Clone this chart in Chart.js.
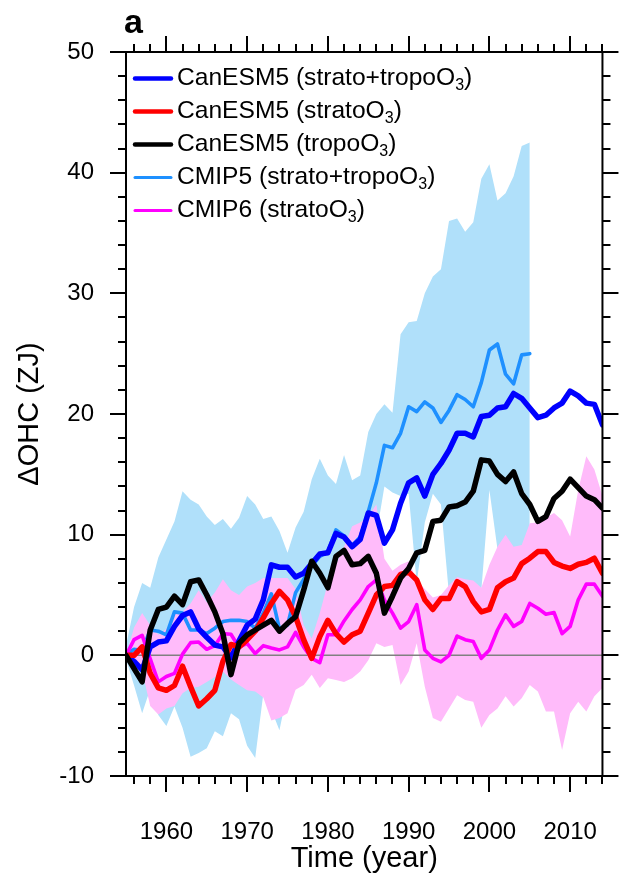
<!DOCTYPE html>
<html>
<head>
<meta charset="utf-8">
<title>ΔOHC</title>
<script src="https://cdn.jsdelivr.net/npm/chart.js@4.4.0/dist/chart.umd.min.js"></script>
<style>
  html, body { margin: 0; padding: 0; background: #fff; }
  canvas { display: block; }
</style>
</head>
<body>
<canvas id="ohc" width="624" height="877"></canvas>
<script>
const FONT = '"Liberation Sans", Arial, Helvetica, sans-serif';

const years = [
  1955, 1956, 1957, 1958, 1959, 1960, 1961, 1962, 1963, 1964,
  1965, 1966, 1967, 1968, 1969, 1970, 1971, 1972, 1973, 1974,
  1975, 1976, 1977, 1978, 1979, 1980, 1981, 1982, 1983, 1984,
  1985, 1986, 1987, 1988, 1989, 1990, 1991, 1992, 1993, 1994,
  1995, 1996, 1997, 1998, 1999, 2000, 2001, 2002, 2003, 2004,
  2005, 2006, 2007, 2008, 2009, 2010, 2011, 2012, 2013, 2014
];

// CanESM5 runs (ZJ)
const canesmBoth = [
  0, -0.5, -1.2, 0.7, 1.1, 1.2, 2.4, 3.3, 3.6, 2.2,
  1.5, 0.85, 0.7, -0.2, 1.2, 2.5, 3.0, 4.6, 7.5, 7.3,
  7.3, 6.5, 6.8, 7.6, 8.4, 8.5, 10.1, 9.8, 9.0, 9.6,
  11.8, 11.6, 9.3, 10.4, 12.6, 14.3, 14.7, 13.2, 15.0, 15.9,
  17.0, 18.4, 18.4, 18.1, 19.8, 19.9, 20.5, 20.6, 21.7, 21.3,
  20.5, 19.7, 19.9, 20.5, 20.9, 21.9, 21.5, 20.9, 20.8, 19.1
];
const canesmStrato = [
  0, 0, 0.7, -1.5, -2.7, -2.9, -2.5, -0.9, -2.6, -4.2,
  -3.6, -2.9, -0.5, 0.9, 0.7, 1.3, 2.0, 3.1, 4.3, 5.3,
  4.6, 3.2, 1.3, -0.25, 1.55, 2.9, 1.8, 1.1, 1.7, 2.0,
  3.5, 5.0, 5.7, 5.8, 6.7, 6.9, 6.25, 4.6, 3.8, 4.7,
  4.7, 6.1, 5.7, 4.45, 3.6, 3.8, 5.6, 6.1, 6.4, 7.6,
  8.05, 8.6, 8.6, 7.7, 7.4, 7.2, 7.55, 7.7, 8.05, 6.8
];
const canesmTropo = [
  0, -1.1, -2.2, 2.1, 3.8, 4.0, 4.9, 4.2, 6.1, 6.25,
  5.0, 3.6, 1.8, -1.6, 1.0, 1.7, 2.1, 2.5, 2.9, 2.0,
  2.65, 3.2, 5.4, 7.8, 6.8, 5.6, 8.2, 8.7, 7.5, 7.6,
  8.2, 6.8, 3.5, 4.9, 6.4, 7.2, 8.5, 8.7, 11.1, 11.2,
  12.3, 12.4, 12.7, 13.6, 16.2, 16.1, 15.0, 14.4, 15.2, 13.4,
  12.5, 11.1, 11.5, 13.0, 13.6, 14.6, 13.9, 13.2, 12.9, 12.2
];

// multi-model means and ranges; CMIP5 stops in 2005
const cmip5Mean = [
  0, 0.5, 0.4, 2.1, 2.0, 1.7, 3.6, 3.5, 2.1, 2.1,
  1.8, 2.25, 2.8, 2.9, 2.9, 2.8, 2.25, 3.5, 5.1, 2.2,
  2.5, 5.2, 6.3, 7.4, 8.2, 8.6, 10.4, 9.9, 9.1, 9.8,
  11.9, 14.3, 17.4, 17.2, 18.4, 20.6, 20.2, 21.0, 20.5, 19.3,
  20.3, 21.6, 21.2, 20.6, 22.6, 25.3, 25.8, 23.3, 22.5, 24.9,
  25.0
];
const cmip5Upper = [
  0.8, 4.0, 6.0, 5.6, 8.1, 9.6, 11.1, 13.6, 12.9, 12.5,
  11.5, 10.8, 11.3, 10.5, 11.4, 13.2, 12.5, 11.3, 11.5, 10.3,
  8.5, 10.6, 11.9, 14.6, 16.3, 14.9, 14.2, 16.6, 14.5, 14.9,
  18.5, 20.0, 20.8, 20.1, 26.6, 27.6, 27.7, 30.0, 31.4, 32.0,
  36.0, 36.2, 35.1, 35.9, 39.5, 40.7, 37.7, 38.3, 39.7, 42.2,
  42.5
];
const cmip5Lower = [
  -0.3, -2.5, -4.8, -2.8, -4.95, -5.85, -4.25, -6.0, -8.4, -8.1,
  -7.7, -6.3, -6.7, -4.8, -5.3, -7.5, -8.5, -3.2, -4.5, -6.2,
  -3.0, -1.0, 1.0, 1.0, 2.0, 3.0, 4.0, 5.0, 6.0, 7.0,
  8.0, 10.0, 14.0, 13.5, 13.2, 13.4, 6.0, 11.0, 13.4, 12.5,
  5.0, 5.8, 6.0, 5.8, 5.4, 13.7, 8.8, 9.5, 8.8, 9.0,
  9.0
];
const cmip6Mean = [
  0, 1.3, 1.65, -0.3, -2.2, -1.75, -1.5, 0.1, 1.05, 1.1,
  0.5, 0.8, 1.8, 1.75, 0.65, 1.0, 0.15, 0.8, 0.6, 0.45,
  0.7, 1.9, 0.7, -0.25, -0.6, 1.7, 1.7, 2.85, 3.8, 4.6,
  5.7, 6.25, 4.6, 3.5, 2.25, 2.8, 4.2, 0.45, -0.25, -0.55,
  0.0, 1.6, 1.3, 1.15, -0.25, 0.45, 2.1, 3.35, 2.4, 2.8,
  4.3, 3.9, 3.4, 3.55, 1.8, 2.4, 4.6, 5.9, 5.9, 4.9
];
const cmip6Upper = [
  0, 2.3, 3.5, 2.5, 1.7, 2.2, 3.4, 3.6, 4.3, 5.4,
  4.4, 5.2, 6.3, 5.4, 5.0, 5.7, 6.0, 6.4, 6.4, 6.4,
  6.4, 5.5, 2.5, 1.4, 3.5, 6.0, 7.5, 9.0, 10.7, 11.0,
  11.5, 12.5, 8.0, 7.0, 7.5, 7.8, 6.2, 5.5, 4.8, 5.0,
  5.8, 6.5, 6.3, 6.2, 5.6, 7.5, 9.0, 10.0, 9.0, 9.15,
  10.95, 11.0, 11.4, 11.8, 11.2, 9.85, 13.7, 16.5, 15.4, 13.2
];
const cmip6Lower = [
  0, -0.5, -1.3, -4.2, -4.9, -4.4, -4.2, -3.15, -2.7, -2.6,
  -2.2, -1.8, -1.35, -2.0, -2.45, -2.9, -3.0, -3.5, -5.4, -5.2,
  -4.8, -2.85, -2.45, -1.6, -2.7, -1.9, -2.05, -2.2, -1.9, -1.35,
  -0.4, 1.0, 0.7, 0.85, -2.45, -1.35, 1.0, -2.6, -5.2, -5.5,
  -4.4, -3.3, -3.7, -3.85, -6.0, -4.95, -4.4, -3.4, -4.25, -3.55,
  -2.45, -3.0, -4.65, -4.65, -7.85, -4.8, -3.85, -4.65, -3.4, -2.7
];

const xTickLabels = [1960, 1970, 1980, 1990, 2000, 2010];
const yTickLabels = [-10, 0, 10, 20, 30, 40, 50];

const pts = vals => vals.map((v, i) => ({ x: years[i], y: v }));

function series(label, vals, color, width, order) {
  return {
    label, data: pts(vals), borderColor: color, backgroundColor: color,
    borderWidth: width, pointRadius: 0, fill: false, order,
    borderCapStyle: 'round', borderJoinStyle: 'round', inKey: true
  };
}
function edge(vals, color, fill, order) {
  return {
    data: pts(vals), borderWidth: 0, borderColor: 'rgba(0,0,0,0)',
    backgroundColor: color, pointRadius: 0, fill, order
  };
}

const datasets = [
  series('CanESM5 (strato+tropoO₃)', canesmBoth, '#0000ff', 5.5, 8),
  series('CanESM5 (stratoO₃)', canesmStrato, '#ff0000', 5.5, 7),
  series('CanESM5 (tropoO₃)', canesmTropo, '#000000', 5.5, 6),
  series('CMIP5 (strato+tropoO₃)', cmip5Mean, '#1e90ff', 3.6, 10),
  series('CMIP6 (stratoO₃)', cmip6Mean, '#ff00ff', 3.6, 9),
  {
    data: [{ x: years[0], y: 0 }, { x: years[years.length - 1], y: 0 }],
    borderColor: '#808080', borderWidth: 1.5, pointRadius: 0, fill: false, order: 15
  },
  edge(cmip5Upper, '#b0e0fa', '+1', 20),
  edge(cmip5Lower, '#b0e0fa', false, 19),
  edge(cmip6Upper, '#ffbbfa', '+1', 18),
  edge(cmip6Lower, '#ffbbfa', false, 17)
];

// boxed frame with outward ticks on all four sides, plus the panel letter
const frame = {
  id: 'frame',
  afterDraw(chart) {
    const { ctx, chartArea: a, scales: { x, y } } = chart;
    ctx.save();
    ctx.strokeStyle = '#000';
    ctx.lineWidth = 2;
    ctx.strokeRect(a.left, a.top, a.right - a.left, a.bottom - a.top);
    ctx.beginPath();
    for (let v = 1956; v <= 2014; v += 2) {
      const len = v % 10 === 0 ? 16 : 8;
      const px = Math.round(x.getPixelForValue(v));
      ctx.moveTo(px, a.bottom); ctx.lineTo(px, a.bottom + len);
      ctx.moveTo(px, a.top); ctx.lineTo(px, a.top - len);
    }
    for (let v = -10; v <= 50; v += 2) {
      const len = v % 10 === 0 ? 16 : 8;
      const py = Math.round(y.getPixelForValue(v));
      ctx.moveTo(a.left, py); ctx.lineTo(a.left - len, py);
      ctx.moveTo(a.right, py); ctx.lineTo(a.right + len, py);
    }
    ctx.stroke();
    ctx.fillStyle = '#000';
    ctx.font = 'bold 34px ' + FONT;
    ctx.textBaseline = 'alphabetic';
    ctx.fillText('a', 124, 33);
    ctx.restore();
  }
};

// key in the upper left, with the ozone subscript drawn small and lowered
const key = {
  id: 'key',
  afterDatasetsDraw(chart) {
    const ctx = chart.ctx;
    const items = chart.data.datasets.filter(d => d.inKey);
    ctx.save();
    items.forEach((d, i) => {
      const row = 78.5 + i * 33;
      ctx.strokeStyle = d.borderColor;
      ctx.lineWidth = d.borderWidth > 4 ? 4.5 : 3;
      ctx.lineCap = 'round';
      ctx.beginPath();
      ctx.moveTo(135, row);
      ctx.lineTo(171, row);
      ctx.stroke();

      const [head, tail] = d.label.split('₃');
      let tx = 177;
      const base = row + 6.5;
      ctx.fillStyle = '#000';
      ctx.textBaseline = 'alphabetic';
      ctx.font = '24.6px ' + FONT;
      ctx.fillText(head, tx, base);
      tx += ctx.measureText(head).width;
      ctx.font = '16px ' + FONT;
      ctx.fillText('3', tx, base + 5);
      tx += ctx.measureText('3').width;
      ctx.font = '24.6px ' + FONT;
      ctx.fillText(tail, tx, base);
    });
    ctx.restore();
  }
};

new Chart(document.getElementById('ohc'), {
  type: 'line',
  data: { datasets },
  options: {
    responsive: false,
    animation: false,
    devicePixelRatio: 1,
    layout: { padding: { top: 52, right: 17, left: 0, bottom: 0 } },
    elements: { line: { tension: 0 } },
    plugins: { legend: { display: false }, tooltip: { enabled: false } },
    scales: {
      x: {
        type: 'linear', min: 1955, max: 2014,
        grid: { display: false, drawTicks: true, tickLength: 16 },
        border: { display: false },
        ticks: {
          font: { family: FONT, size: 24 }, color: '#000', padding: 26,
          maxRotation: 0, autoSkip: false, callback: v => String(v)
        },
        afterBuildTicks: s => { s.ticks = xTickLabels.map(v => ({ value: v })); },
        afterFit: s => { s.height = 101; },
        title: {
          display: true, text: 'Time (year)', color: '#000',
          font: { family: FONT, size: 29 }, padding: { top: 0, bottom: 1 }
        }
      },
      y: {
        type: 'linear', min: -10, max: 50,
        grid: { display: false, drawTicks: true, tickLength: 16 },
        border: { display: false },
        ticks: {
          font: { family: FONT, size: 24 }, color: '#000', padding: 16,
          autoSkip: false, callback: v => String(v)
        },
        afterBuildTicks: s => { s.ticks = yTickLabels.map(v => ({ value: v })); },
        afterFit: s => { s.width = 126; },
        title: {
          display: true, text: 'ΔOHC (ZJ)', color: '#000',
          font: { family: FONT, size: 29 }, padding: { top: 13, bottom: 0 }
        }
      }
    }
  },
  plugins: [frame, key]
});
</script>
</body>
</html>
